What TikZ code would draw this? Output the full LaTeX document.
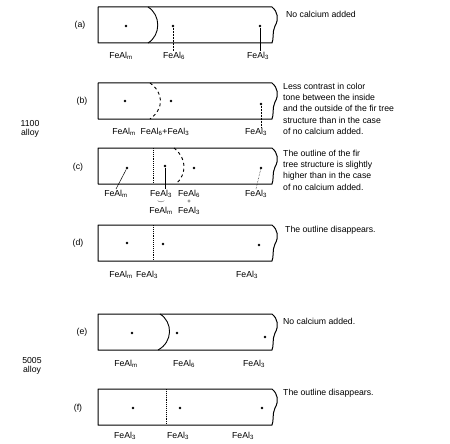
\documentclass[tikz,border=0pt]{standalone}
\usepackage{fontspec}
\setmainfont{Liberation Sans}
\usetikzlibrary{calc}

\begin{document}
\begin{tikzpicture}[
  x=1pt, y=-1pt,
  font=\fontsize{8.7}{11.2}\selectfont,
  bar/.style={draw, line width=1pt, line join=round},
  bound/.style={line width=0.9pt},
  pt/.style={circle, fill, inner sep=0pt, minimum size=2.8pt},
  phase/.style={inner sep=0.5pt, anchor=north},
  tag/.style={inner sep=1pt},
  note/.style={anchor=north west, align=left, inner sep=0pt},
  lead/.style={line width=0.5pt}
]
\useasboundingbox (0,0) rectangle (450,444);

% specimen bars, broken off at the right
\foreach \t in {7,83,148,225,314,389}
  \draw[bar] (98,\t) -- (272,\t) .. controls (278,\t+5) and (279,\t+12) .. (275,\t+19)
    .. controls (272,\t+25) and (274,\t+32) .. (272,\t+36) -- (98,\t+36) -- cycle;

% alloy names
\node[tag, align=center] (al1100) at (30,129) {1100\\[-2pt]alloy};
\node[tag, align=center] (al5005) at (32,366) {5005\\[-2pt]alloy};

% (a)
\node[tag] (ta) at (80,25) {(a)};
\draw[bound] (148,7) .. controls (161,15) and (161,35) .. (148,43);
\node[pt] (a1) at (126,26) {};
\node[pt] (a2) at (173,26) {};
\node[pt] (a3) at (260,26) {};
\node[phase] (la1) at (121,51) {FeAl\textsubscript{m}};
\node[phase] (la2) at (174,51) {FeAl\textsubscript{6}};
\node[phase] (la3) at (258,51) {FeAl\textsubscript{3}};
\draw[lead, densely dotted] (a2) -- (a2 |- la2.north);
\draw[lead] (a3) -- (a3 |- la3.north);
\node[note] (na) at (286,11) {No calcium added};

% (b)
\node[tag] (tb) at (82,101) {(b)};
\draw[bound, dashed] (150,83) .. controls (164,93) and (164,109) .. (150,119);
\node[pt] (b1) at (125,101) {};
\node[pt] (b2) at (171,101) {};
\node[pt] (b3) at (261,104) {};
\node[phase] (lb1) at (124,127) {FeAl\textsubscript{m}};
\node[phase] (lb2) at (165,127) {FeAl\textsubscript{6}+FeAl\textsubscript{3}};
\node[phase] (lb3) at (256,127) {FeAl\textsubscript{3}};
\draw[lead, densely dotted] (b3) -- (b3 |- lb3.north);
\node[note] (nb) at (283,83) {Less contrast in color\\tone between the inside\\and the outside of the fir tree\\structure than in the case\\of no calcium added.};

% (c)
\node[tag] (tc) at (78,167) {(c)};
\draw[bound, densely dotted] (153,148) -- (153,184);
\draw[bound, dashed] (174,148) .. controls (187,158) and (187,174) .. (176,184);
\node[pt] (c1) at (127,168) {};
\node[pt] (c2) at (165,166) {};
\node[pt] (c3) at (194,168) {};
\node[pt] (c4) at (261,168) {};
\node[phase] (lc1) at (116,189) {FeAl\textsubscript{m}};
\node[phase] (lc2) at (161,189) {FeAl\textsubscript{3}};
\node[phase] (lc3) at (189,189) {FeAl\textsubscript{6}};
\node[phase] (lc4) at (256,189) {FeAl\textsubscript{3}};
\node[inner sep=0pt, font=\fontsize{7}{7}\selectfont] (jc1) at (161,202) {$\smile$};
\node[inner sep=0pt, font=\fontsize{6}{6}\selectfont] (jc2) at (189,202) {+};
\node[phase] (lc5) at (161,206) {FeAl\textsubscript{m}};
\node[phase] (lc6) at (189,206) {FeAl\textsubscript{3}};
\draw[lead] (c1) -- (lc1.north);
\draw[lead] (c2) -- (c2 |- lc2.north);
\draw[lead, densely dotted] (c4) -- (lc4.north);
\node[note] (nc) at (283,150) {The outline of the fir\\tree structure is slightly\\higher than in the case\\of no calcium added.};

% (d)
\node[tag] (td) at (78,243) {(d)};
\draw[bound, densely dotted] (153,225) -- (153,261);
\node[pt] (d1) at (127,243) {};
\node[pt] (d2) at (163,244) {};
\node[pt] (d3) at (259,245) {};
\node[phase] (ld1) at (121,270) {FeAl\textsubscript{m}};
\node[phase] (ld2) at (147,270) {FeAl\textsubscript{3}};
\node[phase] (ld3) at (247,270) {FeAl\textsubscript{3}};
\node[note] (nd) at (285,226) {The outline disappears.};

% (e)
\node[tag] (te) at (82,332) {(e)};
\draw[bound] (160,314) .. controls (173,322) and (173,342) .. (158,350);
\node[pt] (e1) at (132,333) {};
\node[pt] (e2) at (177,333) {};
\node[pt] (e3) at (265,337) {};
\node[phase] (le1) at (126,359) {FeAl\textsubscript{m}};
\node[phase] (le2) at (184,359) {FeAl\textsubscript{6}};
\node[phase] (le3) at (254,359) {FeAl\textsubscript{3}};
\node[note] (ne) at (283,318) {No calcium added.};

% (f)
\node[tag] (tf) at (78,408) {(f)};
\draw[bound, densely dotted] (166,389) -- (166,425);
\node[pt] (f1) at (133,408) {};
\node[pt] (f2) at (180,408) {};
\node[pt] (f3) at (262,408) {};
\node[phase] (lf1) at (125,431) {FeAl\textsubscript{3}};
\node[phase] (lf2) at (178,431) {FeAl\textsubscript{3}};
\node[phase] (lf3) at (243,431) {FeAl\textsubscript{3}};
\node[note] (nf) at (283,389) {The outline disappears.};
\end{tikzpicture}
\end{document}
